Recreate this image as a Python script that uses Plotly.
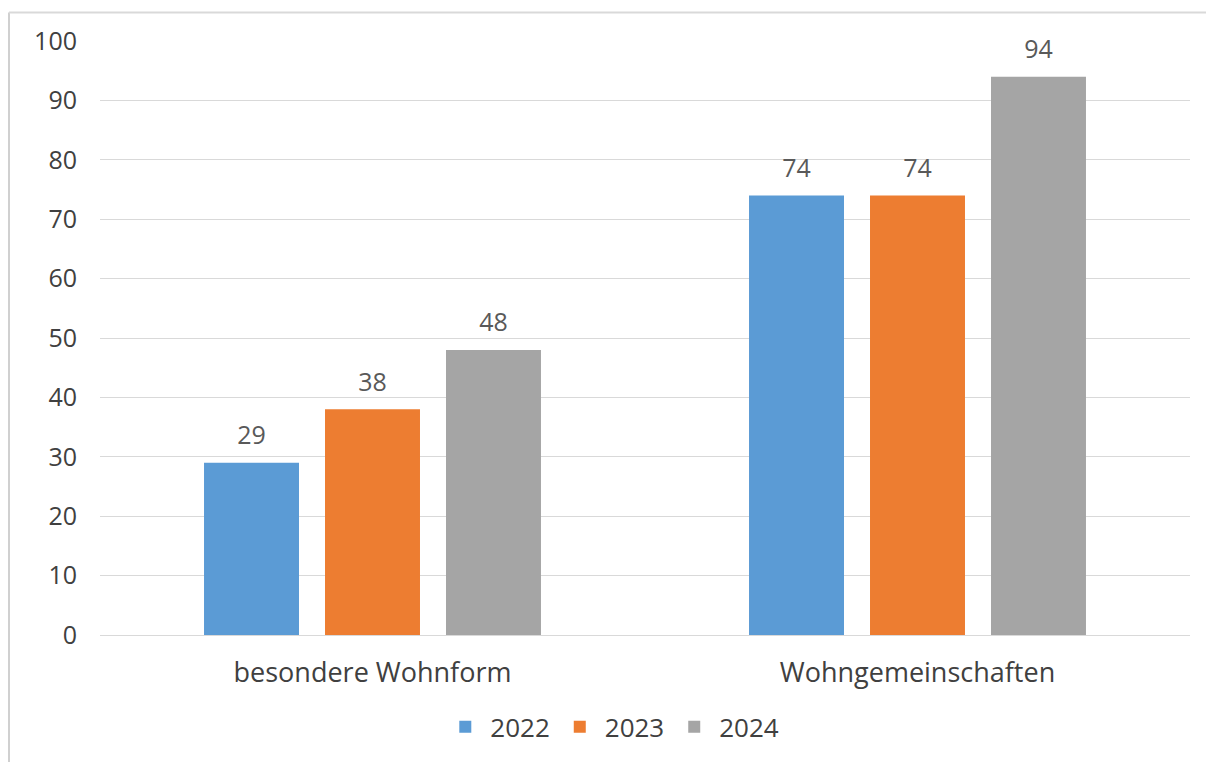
import plotly.graph_objects as go

categories = ["besondere Wohnform", "Wohngemeinschaften"]
years = ["2022", "2023", "2024"]
values_2022 = [29, 74]
values_2023 = [38, 74]
values_2024 = [48, 94]
colors = ["#5B9BD5", "#ED7D31", "#A5A5A5"]

series = [values_2022, values_2023, values_2024]

fig = go.Figure()
for year, vals, col in zip(years, series, colors):
    fig.add_trace(go.Bar(
        x=categories, y=vals, name=year,
        marker=dict(color=col, line=dict(width=0)),
        offsetgroup=year,
    ))

# value labels, grouped like the bars, lifted a bit above the bar tops
for year, vals in zip(years, series):
    fig.add_trace(go.Scatter(
        x=categories, y=vals, mode="markers+text", showlegend=False,
        offsetgroup=year, hoverinfo="skip",
        marker=dict(size=18, color="rgba(0,0,0,0)"),
        text=[str(v) for v in vals], textposition="top center",
        textfont=dict(size=25, color="#595959"),
        cliponaxis=False,
    ))

fig.update_layout(
    width=1206, height=754,
    margin=dict(l=92, r=24, t=33, b=118),
    plot_bgcolor="white", paper_bgcolor="white",
    font=dict(family="Open Sans, DejaVu Sans, sans-serif", size=25, color="#404040"),
    barmode="group", bargap=0.334, bargroupgap=0.215,
    scattermode="group", scattergap=0.334,
    showlegend=True,
    legend=dict(orientation="h", x=0.47, xanchor="center", y=-0.115, yanchor="top",
                font=dict(size=26, color="#404040"), itemwidth=40,
                traceorder="normal"),
    xaxis=dict(showgrid=False, showline=True, linecolor="#D9D9D9", linewidth=1,
               ticks="", tickfont=dict(size=27, color="#404040"), ticklabelstandoff=14),
    yaxis=dict(range=[0, 100], dtick=10, showgrid=True, gridcolor="#D9D9D9",
               gridwidth=1, zeroline=False, showline=False,
               tickfont=dict(size=25, color="#404040"), ticklabelstandoff=22),
    shapes=[
        dict(type="line", xref="paper", yref="paper",
             x0=(1 - 92) / 1090, x1=(1 - 92) / 1090, y0=(636 - 4) / 603, y1=-0.3,
             line=dict(color="#D0D0D0", width=2)),
        dict(type="line", xref="paper", yref="paper",
             x0=(1 - 92) / 1090, x1=1.03, y0=(636 - 4) / 603, y1=(636 - 4) / 603,
             line=dict(color="#D9D9D9", width=2)),
    ],
)

fig.write_html("out.html")
